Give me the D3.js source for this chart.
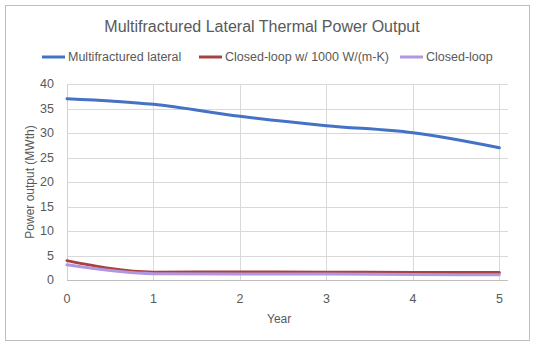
<!DOCTYPE html>
<html>
<head>
<meta charset="utf-8">
<script src="https://cdn.jsdelivr.net/npm/d3@7"></script>
<style>
  body { margin: 0; background: #fff; }
  svg text { font-family: "Liberation Sans", Arial, sans-serif; fill: #595959; }
</style>
</head>
<body>
<svg id="chart" width="536" height="347"></svg>
<script>
// yearly thermal power (MWth)
const years = [0, 1, 2, 3, 4, 5];
const lateral = [37.0, 35.85, 33.4, 31.5, 30.05, 27.0];
const closedLoopCond = [3.95, 1.6, 1.65, 1.6, 1.55, 1.55];
const closedLoop = [3.1, 1.3, 1.2, 1.2, 1.1, 1.05];
const yTicks = [0, 5, 10, 15, 20, 25, 30, 35, 40];

const series = [
  { name: "Multifractured lateral", values: lateral, color: "#4472C4" },
  { name: "Closed-loop w/ 1000 W/(m-K)", values: closedLoopCond, color: "#A8423F" },
  { name: "Closed-loop", values: closedLoop, color: "#B196E0" }
];

const svg = d3.select("#chart");

// outer chart frame
svg.append("rect")
  .attr("x", 5.5).attr("y", 5.5)
  .attr("width", 524).attr("height", 335)
  .attr("fill", "#fff")
  .attr("stroke", "#bfbfbf");

const x = d3.scaleLinear().domain([0, 5.1]).range([67, 508]);
const y = d3.scaleLinear().domain([0, 40]).range([280, 84]);

// gridlines
svg.append("g").selectAll("line")
  .data(yTicks.slice(1))
  .enter().append("line")
  .attr("x1", x(0)).attr("x2", x.range()[1])
  .attr("y1", d => Math.round(y(d)) + 0.5).attr("y2", d => Math.round(y(d)) + 0.5)
  .attr("stroke", "#d9d9d9").attr("stroke-width", 1);

svg.append("g").selectAll("line")
  .data(years.slice(1))
  .enter().append("line")
  .attr("x1", d => Math.round(x(d)) + 0.5).attr("x2", d => Math.round(x(d)) + 0.5)
  .attr("y1", y(40)).attr("y2", y(0))
  .attr("stroke", "#d9d9d9").attr("stroke-width", 1);

// axis lines
svg.append("line")
  .attr("x1", x(0)).attr("x2", x.range()[1])
  .attr("y1", Math.round(y(0)) + 0.5).attr("y2", Math.round(y(0)) + 0.5)
  .attr("stroke", "#bfbfbf");
svg.append("line")
  .attr("x1", Math.round(x(0)) + 0.5).attr("x2", Math.round(x(0)) + 0.5)
  .attr("y1", y(40)).attr("y2", y(0))
  .attr("stroke", "#d0d0d0");

// tick labels
svg.append("g").selectAll("text")
  .data(yTicks)
  .enter().append("text")
  .attr("x", 54).attr("y", d => y(d))
  .attr("dy", "0.35em")
  .attr("text-anchor", "end")
  .style("font-size", "12.5px")
  .text(d => d);

svg.append("g").selectAll("text")
  .data(years)
  .enter().append("text")
  .attr("x", d => x(d)).attr("y", 299)
  .attr("dy", "0.35em")
  .attr("text-anchor", "middle")
  .style("font-size", "12.5px")
  .text(d => d);

// axis titles
svg.append("text")
  .attr("x", x(2.5) - 4).attr("y", 319)
  .attr("dy", "0.35em")
  .attr("text-anchor", "middle")
  .style("font-size", "12px")
  .text("Year");

svg.append("text")
  .attr("transform", `translate(30, ${y(20)}) rotate(-90)`)
  .attr("dy", "0.35em")
  .attr("text-anchor", "middle")
  .style("font-size", "12px")
  .text("Power output (MWth)");

// series lines
const line = d3.line()
  .x((d, i) => x(years[i]))
  .y(d => y(d))
  .curve(d3.curveMonotoneX);

svg.append("g").selectAll("path")
  .data(series)
  .enter().append("path")
  .attr("d", d => line(d.values))
  .attr("fill", "none")
  .attr("stroke", d => d.color)
  .attr("stroke-width", 3)
  .attr("stroke-linecap", "round");

// title
svg.append("text")
  .attr("x", 262).attr("y", 26)
  .attr("dy", "0.35em")
  .attr("text-anchor", "middle")
  .style("font-size", "16px")
  .text("Multifractured Lateral Thermal Power Output");

// legend, items placed one after another
const legendStarts = [42, 199, 400];
const legend = svg.append("g").selectAll("g")
  .data(series)
  .enter().append("g")
  .attr("transform", (d, i) => `translate(${legendStarts[i]}, 57)`);

legend.append("line")
  .attr("x1", 0).attr("x2", 23)
  .attr("stroke", d => d.color)
  .attr("stroke-width", 3);

legend.append("text")
  .attr("x", 26)
  .attr("dy", "0.35em")
  .style("font-size", "12.5px")
  .text(d => d.name);
</script>
</body>
</html>
